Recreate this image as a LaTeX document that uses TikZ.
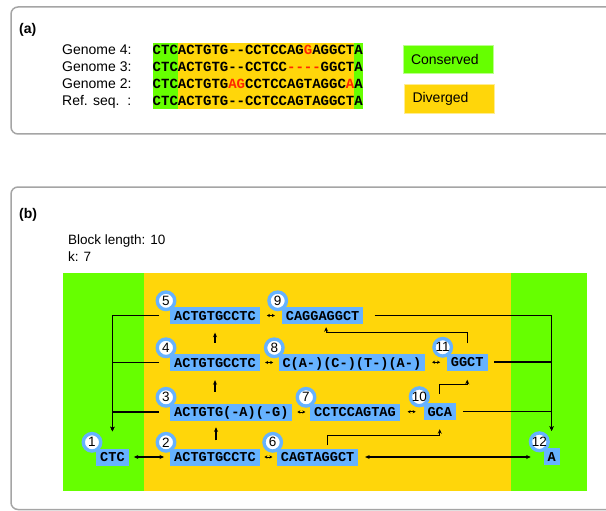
\documentclass[tikz,border=0pt]{standalone}
\usepackage{fontspec}
\setmainfont{Liberation Sans}
\newfontfamily\seqfontfam{Liberation Mono}[Ligatures=TeXOff]
\usetikzlibrary{arrows.meta,calc}
\definecolor{cgreen}{RGB}{102,255,0}
\definecolor{cyellow}{RGB}{255,214,10}
\definecolor{cblue}{RGB}{102,178,255}
\definecolor{cred}{RGB}{255,40,0}
\definecolor{cframe}{RGB}{165,165,165}
\begin{document}
\begin{tikzpicture}[x=1pt,y=-1pt,
  panel/.style={draw=cframe,line width=1.5pt,rounded corners=7pt},
  lbl/.style={font=\fontsize{14}{16}\selectfont,anchor=base west,inner sep=0pt},
  smalllbl/.style={font=\fontsize{13.5}{16}\selectfont,anchor=base west,inner sep=0pt},
  headlbl/.style={font=\bfseries\fontsize{14}{16}\selectfont,anchor=base west,inner sep=0pt},
  seqrow/.style={font=\seqfontfam\bfseries\fontsize{14}{16}\selectfont,anchor=base west,inner sep=0pt},
  legbox/.style={minimum height=28.5pt,inner xsep=8pt,text width=74pt,align=left,font=\fontsize{14}{16}\selectfont},
  blk/.style={fill=cblue,font=\seqfontfam\bfseries\fontsize{13.6}{16}\selectfont,inner xsep=4pt,inner ysep=0pt,text height=9pt,text depth=0pt,minimum height=17pt,anchor=west},
  numc/.style={circle,draw=cblue,fill=white,line width=3.4pt,minimum size=17.5pt,inner sep=0pt,font=\fontsize{13.5}{13.5}\selectfont},
  conn/.style={line width=1.1pt,-{Stealth[length=4.5pt,width=4pt]}},
  dconn/.style={line width=1.1pt,{Stealth[length=4.5pt,width=4pt]}-{Stealth[length=4.5pt,width=4pt]}},
  tinyarr/.style={line width=0.8pt,{Stealth[length=3pt,width=3.2pt]}-{Stealth[length=3pt,width=3.2pt]}}
]
\useasboundingbox (0,0) rectangle (606,511);
\clip (0,0) rectangle (606,511);

% ---------- panel (a)
\draw[panel] (11,7) rectangle (640,134);
\node[headlbl] (alab) at (19,34) {(a)};
\fill[cgreen] (152.5,43.5) rectangle (177.7,109.5);
\fill[cyellow] (177.7,43.5) rectangle (354.1,109.5);
\fill[cgreen] (354.1,43.5) rectangle (362.5,109.5);
\node[lbl] (g4) at (62,55) {Genome 4:};
\node[lbl] (g3) at (62,72) {Genome 3:};
\node[lbl] (g2) at (62,89) {Genome 2:};
\node[lbl] (gr) at (62,106) {Ref. seq.\ \ :};
\node[seqrow] (s4) at (152.5,55) {CTCACTGTG--CCTCCAG\textcolor{cred}{G}AGGCTA};
\node[seqrow] (s3) at (152.5,72) {CTCACTGTG--CCTCC\textcolor{cred}{----}GGCTA};
\node[seqrow] (s2) at (152.5,89) {CTCACTGTG\textcolor{cred}{AG}CCTCCAGTAGGC\textcolor{cred}{A}A};
\node[seqrow] (sr) at (152.5,106) {CTCACTGTG--CCTCCAGTAGGCTA};
\node[legbox,fill=cgreen,draw=cgreen!45!white,line width=0.8pt] (cons) at (448,59.5) {Conserved};
\node[legbox,fill=cyellow,draw=cyellow!45!white,line width=0.8pt] (div) at (449.5,99) {Diverged};

% ---------- panel (b)
\draw[panel] (11,187) rectangle (640,509.5);
\node[headlbl] (blab) at (19,218) {(b)};
\node[smalllbl] (bl) at (68,244) {Block length: 10};
\node[smalllbl] (kl) at (68,261) {k: 7};
\fill[cgreen] (63.3,273.3) rectangle (586.7,490.7);
\fill[cyellow] (144.3,273.3) rectangle (510.7,490.7);

\node[blk] (n5) at (170,315.5) {ACTGTGCCTC};
\node[blk] (n9) at (281.7,315.5) {CAGGAGGCT};
\node[blk] (n4) at (170,362.5) {ACTGTGCCTC};
\node[blk] (n8) at (278.3,362.5) {C(A-)(C-)(T-)(A-)};
\node[blk] (n11) at (446.7,362) {GGCT};
\node[blk] (n3) at (170,412) {ACTGTG(-A)(-G)};
\node[blk] (n7) at (310,412) {CCTCCAGTAG};
\node[blk] (n10) at (423.3,411.5) {GCA};
\node[blk] (n1) at (96,457) {CTC};
\node[blk] (n2) at (170,457) {ACTGTGCCTC};
\node[blk] (n6) at (276.7,457) {CAGTAGGCT};
\node[blk] (n12) at (543.3,456.5) {A};

% small double arrows between neighbours
\foreach \a/\b in {n5/n9,n4/n8,n8/n11,n3/n7,n7/n10,n2/n6}
  \draw[tinyarr] ($(\a.east)!0.5!(\b.west)+(-4,0)$) -- ($(\a.east)!0.5!(\b.west)+(4,0)$);

% left bus into node 1
\draw[conn] ($(n5.west)+(-11,0)$) -| ($(n1.north)+(0,-17)$);
\draw[conn] ($(n4.west)+(-11,0)$) -| ($(n1.north)+(0,-17)$);
\draw[conn] ($(n3.west)+(-11,0)$) -| ($(n1.north)+(0,-17)$);
% right bus into node 12
\draw[conn] ($(n9.east)+(11,0)$) -| ($(n12.north)+(0,-17)$);
\draw[conn] ($(n11.east)+(6.5,0)$) -| ($(n12.north)+(0,-17)$);
\draw[conn] ($(n10.east)+(7,0)$) -| ($(n12.north)+(0,-17)$);
% bottom row
\draw[dconn] ($(n1.east)+(5,0)$) -- ($(n1.east -| n2.west)+(-6,0)$);
\draw[dconn] ($(n6.east)+(6.6,0)$) -- ($(n6.east -| n12.west)+(-12.6,0)$);
% bent connectors
\draw[conn] ($(n6.north)+(10,-3)$) |- ($(n10.south)+(0,15)$) -- ($(n10.south)+(0,9)$);
\draw[conn] ($(n10.north)+(0,-9)$) |- ($(n11.south)+(0,14)$) -- ($(n11.south)+(0,9)$);
\draw[conn] ($(n11.north)+(0,-10)$) |- ($(n9.south)+(3.5,8.5)$) -- ($(n9.south)+(3.5,3)$);
% vertical arrows
\draw[conn] ($(n2.north)+(1,-8)$) -- ($(n2.north |- n3.south)+(1,6.6)$);
\draw[conn] ($(n4.south |- n3.north)+(0,-11.5)$) -- ($(n4.south)+(0,9)$);
\draw[conn] ($(n4.north)+(0,-11)$) -- ($(n4.north |- n5.south)+(0,8.5)$);

% number circles
\foreach \n in {1,...,12}
  \node[numc] (c\n) at ($(n\n.north west)+(-4,-6)$) {\n};
\end{tikzpicture}
\end{document}
